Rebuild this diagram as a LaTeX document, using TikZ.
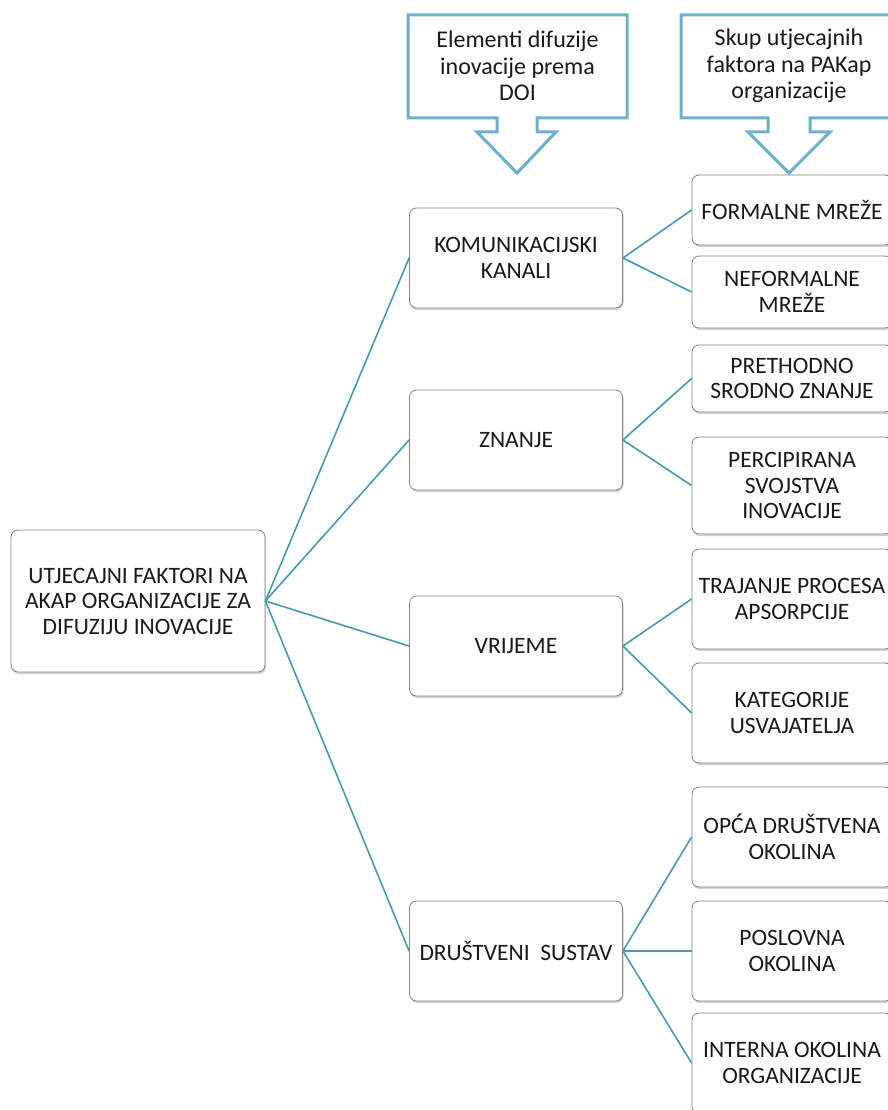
\documentclass[tikz,border=0pt]{standalone}
\usepackage{fontspec}
\setmainfont{Carlito}
\usetikzlibrary{shadows}
\definecolor{linkblue}{RGB}{72,152,180}
\definecolor{calloutblue}{RGB}{108,176,204}
\definecolor{boxgray}{RGB}{130,130,130}
\tikzset{
	factor/.style={draw=boxgray, line width=0.8pt, fill=white, rounded corners=7pt, align=center, inner sep=0pt,
		font=\fontsize{23.5}{25.5}\selectfont, text=black!90,
		drop shadow={shadow xshift=1pt, shadow yshift=-2pt, opacity=0.35}},
	rootbox/.style={factor, minimum width=254pt, minimum height=142pt},
	midbox/.style={factor, minimum width=213pt, minimum height=100pt},
	subbox/.style={factor, minimum width=200pt, minimum height=100pt},
	link/.style={draw=linkblue, line width=1.6pt},
	callout/.style={draw=calloutblue, line width=3pt, fill=white, line join=miter},
	callouttext/.style={align=center, font=\fontsize{24}{26.5}\selectfont, text=black!90}
}
\begin{document}
\begin{tikzpicture}[x=1pt,y=-1pt]
			\useasboundingbox (0,0) rectangle (887,1110);
			% callouts on top
			\draw[callout] (408,15) -- (627,15) -- (627,118) -- (537,118) -- (537,132) -- (556,132)
				-- (517,173) -- (477,132) -- (497,132) -- (497,118) -- (408,118) -- cycle;
			\draw[callout] (681,15) -- (897,15) -- (897,118) -- (810,118) -- (810,132) -- (830,132)
				-- (789,173) -- (748,132) -- (768,132) -- (768,118) -- (681,118) -- cycle;
			\node[callouttext] (doi) at (517.5,66) {Elementi difuzije\\inovacije prema\\DOI};
			\node[callouttext] (pakap) at (789,66) {Skup utjecajnih\\faktora na PAKap\\organizacije};
			% root
			\node[rootbox] (root) at (138,601) {UTJECAJNI FAKTORI NA\\AKAP ORGANIZACIJE ZA\\DIFUZIJU INOVACIJE};
			% elements
			\node[midbox] (kanali) at (516,258) {KOMUNIKACIJSKI\\KANALI};
			\node[midbox] (znanje) at (516,440) {ZNANJE};
			\node[midbox] (vrijeme) at (516,646) {VRIJEME};
			\node[midbox] (sustav) at (516,951) {DRUŠTVENI\ \ SUSTAV};
			% factors
			\node[subbox, minimum height=70pt] (formalne) at (792,210) {FORMALNE MREŽE};
			\node[subbox, minimum height=72pt] (neformalne) at (792,292) {NEFORMALNE\\MREŽE};
			\node[subbox, minimum height=67pt] (prethodno) at (792,378.5) {PRETHODNO\\SRODNO ZNANJE};
			\node[subbox, minimum height=97pt] (percipirana) at (792,485.5) {PERCIPIRANA\\SVOJSTVA\\INOVACIJE};
			\node[subbox] (trajanje) at (792,599) {TRAJANJE PROCESA\\APSORPCIJE};
			\node[subbox] (kategorije) at (792,713) {KATEGORIJE\\USVAJATELJA};
			\node[subbox] (opca) at (792,837) {OPĆA DRUŠTVENA\\OKOLINA};
			\node[subbox] (poslovna) at (792,951) {POSLOVNA\\OKOLINA};
			\node[subbox] (interna) at (792,1063) {INTERNA OKOLINA\\ORGANIZACIJE};
			% connectors
			\foreach \m in {kanali,znanje,vrijeme,sustav}
				\draw[link] (root.east) -- (\m.west);
			\foreach \m/\s in {kanali/formalne,kanali/neformalne,znanje/prethodno,znanje/percipirana,
				vrijeme/trajanje,vrijeme/kategorije,sustav/opca,sustav/poslovna,sustav/interna}
				\draw[link] (\m.east) -- (\s.west);
		\end{tikzpicture}
\end{document}
